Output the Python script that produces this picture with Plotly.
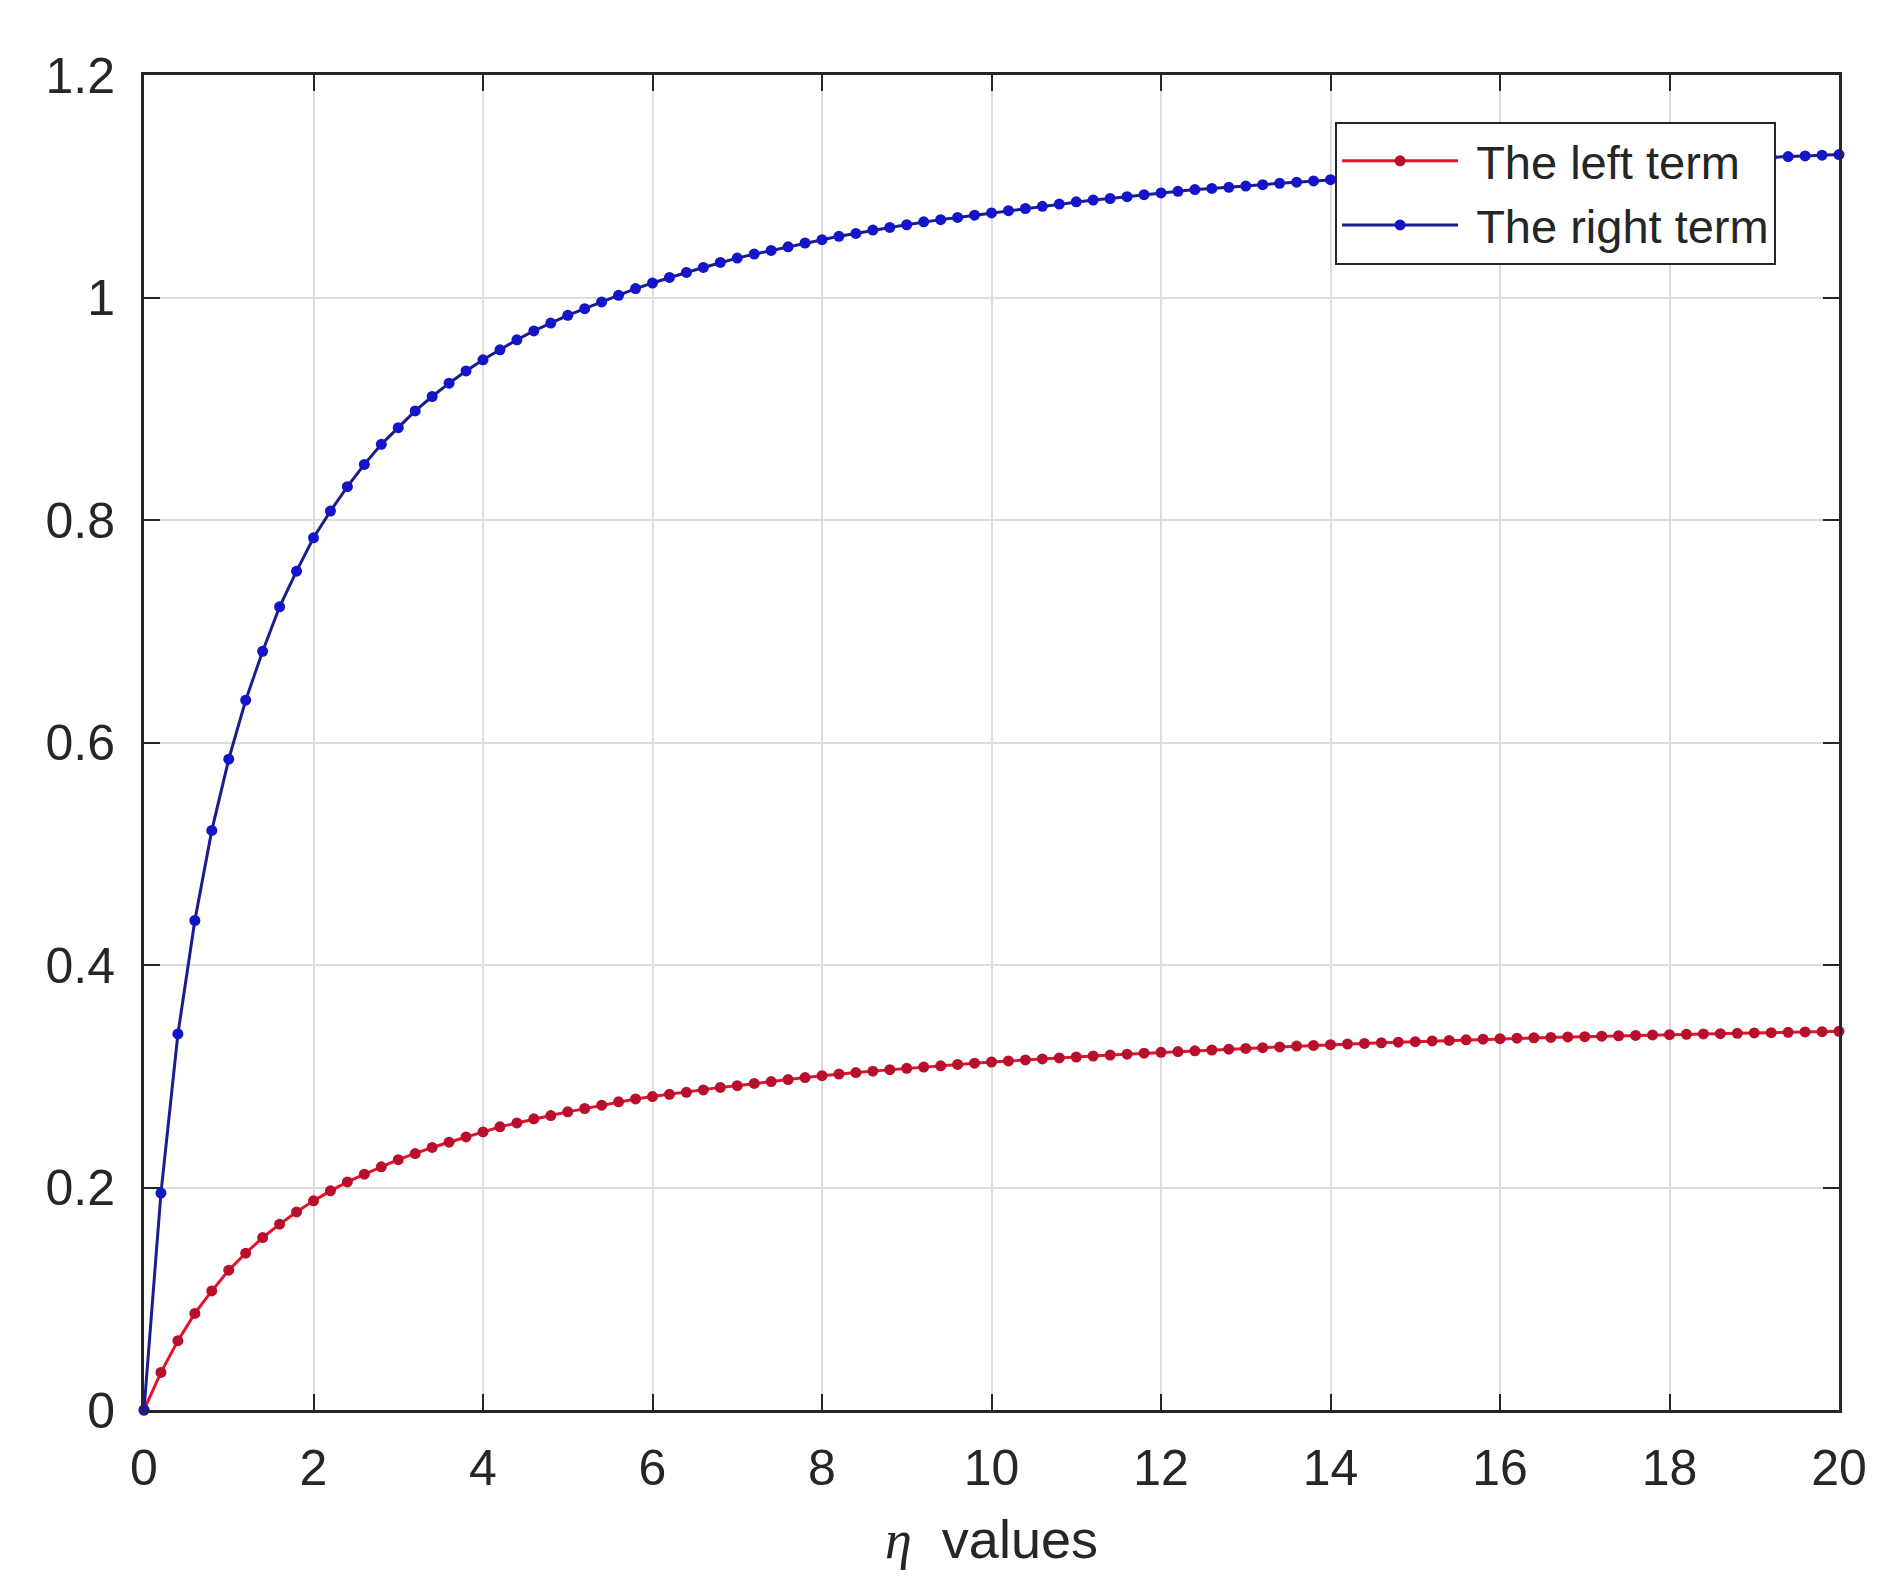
import plotly.graph_objects as go

# eta grid (0 to 20, step 0.2)
eta = [round(i * 0.2, 1) for i in range(101)]

left_term = [
    0.0, 0.0338, 0.0623, 0.0868, 0.107, 0.1257, 0.141, 0.155, 0.167, 0.178,
    0.188, 0.197, 0.205, 0.212, 0.2186, 0.225, 0.2305, 0.236, 0.2407, 0.2455,
    0.250, 0.2545, 0.258, 0.2617, 0.2647, 0.268, 0.271, 0.274, 0.277, 0.2796,
    0.2817, 0.2838, 0.2856, 0.2877, 0.290, 0.2915, 0.2935, 0.2952, 0.297, 0.2988,
    0.3005, 0.302, 0.3033, 0.3046, 0.3059, 0.3071, 0.3083, 0.3094, 0.3106, 0.3117,
    0.3128, 0.3138, 0.3147, 0.3156, 0.3165, 0.3173, 0.3182, 0.319, 0.3198, 0.3207,
    0.3215, 0.3222, 0.3229, 0.3236, 0.3243, 0.325, 0.3257, 0.3264, 0.3271, 0.3277,
    0.3284, 0.329, 0.3295, 0.3301, 0.3306, 0.3311, 0.3317, 0.3322, 0.3327, 0.3333,
    0.3338, 0.3342, 0.3346, 0.3349, 0.3353, 0.3356, 0.336, 0.3364, 0.3367, 0.3371,
    0.3374, 0.3377, 0.338, 0.3383, 0.3386, 0.3389, 0.3392, 0.3395, 0.3398, 0.3401,
    0.3404,
]

right_term = [
    0.0, 0.195, 0.338, 0.440, 0.521, 0.585, 0.638, 0.682, 0.722, 0.754,
    0.784, 0.808, 0.830, 0.850, 0.868, 0.883, 0.898, 0.911, 0.923, 0.934,
    0.944, 0.953, 0.962, 0.970, 0.977, 0.984, 0.990, 0.996, 1.002, 1.008,
    1.013, 1.018, 1.0225, 1.027, 1.0315, 1.0354, 1.039, 1.0423, 1.0456, 1.049,
    1.052, 1.055, 1.0576, 1.0606, 1.063, 1.0654, 1.068, 1.070, 1.072, 1.074,
    1.076, 1.078, 1.080, 1.082, 1.084, 1.086, 1.0876, 1.089, 1.0906, 1.0924,
    1.094, 1.0954, 1.097, 1.098, 1.099, 1.1002, 1.1014, 1.1026, 1.1037, 1.1048,
    1.1059, 1.1069, 1.1079, 1.1089, 1.1099, 1.1108, 1.1117, 1.1126, 1.1135, 1.1143,
    1.1151, 1.1159, 1.1167, 1.1175, 1.1182, 1.1189, 1.1196, 1.1203, 1.121, 1.1217,
    1.1224, 1.123, 1.1237, 1.1243, 1.1249, 1.1255, 1.1261, 1.1267, 1.1273, 1.1279,
    1.1285,
]

series_names = ["\u00a0The left term", "\u00a0The right term"]
x_tick_vals = [0, 2, 4, 6, 8, 10, 12, 14, 16, 18, 20]
y_tick_vals = [0, 0.2, 0.4, 0.6, 0.8, 1.0, 1.2]
y_tick_text = ["0", "0.2", "0.4", "0.6", "0.8", "1", "1.2"]

FONT = "Liberation Sans, Arial, sans-serif"

fig = go.Figure()
fig.add_trace(go.Scatter(
    x=eta, y=left_term, name=series_names[0], mode="lines+markers",
    line=dict(color="#e0142a", width=3),
    marker=dict(color="#b8102c", size=11),
    cliponaxis=False,
))
fig.add_trace(go.Scatter(
    x=eta, y=right_term, name=series_names[1], mode="lines+markers",
    line=dict(color="#1c1c8c", width=3),
    marker=dict(color="#1414c8", size=11),
    cliponaxis=False,
))

axis_common = dict(
    showline=True, linecolor="#262626", linewidth=3, mirror="allticks",
    ticks="inside", ticklen=16, tickwidth=2, tickcolor="#262626",
    showgrid=True, gridcolor="#dcdcdc", gridwidth=2,
    zeroline=False, automargin=False,
    tickfont=dict(family=FONT, size=50, color="#262626"),
)

fig.update_layout(
    width=1889, height=1594,
    paper_bgcolor="white", plot_bgcolor="white",
    margin=dict(l=136, r=58, t=67, b=192),
    font=dict(family=FONT, color="#262626"),
    xaxis=dict(
        range=[0, 20], tickvals=x_tick_vals,
        title=dict(
            text='<span style="font-family:Liberation Serif"><i>η</i></span>  values',
            font=dict(family=FONT, size=54, color="#262626"),
            standoff=26,
        ),
        ticklabelstandoff=12,
        **axis_common,
    ),
    yaxis=dict(
        range=[0, 1.2], tickvals=y_tick_vals, ticktext=y_tick_text,
        ticklabelstandoff=16,
        **axis_common,
    ),
    legend=dict(
        x=0.7027, y=0.965, xanchor="left", yanchor="top",
        bgcolor="white", bordercolor="#262626", borderwidth=2,
        font=dict(family=FONT, size=47, color="#262626"),
        itemwidth=116,
        tracegroupgap=0,
    ),
    showlegend=True,
)

fig.write_html("out.html")
